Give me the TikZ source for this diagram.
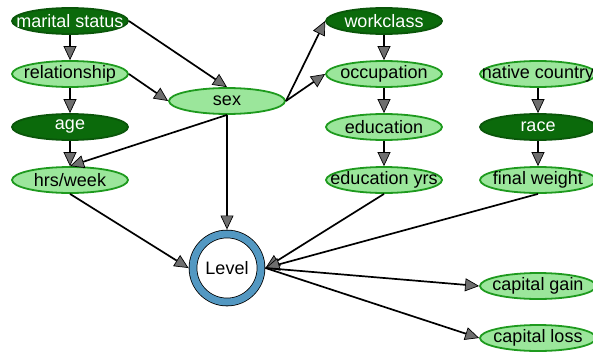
\documentclass[tikz,border=0pt]{standalone}
\usepackage{fontspec}
\setmainfont{Liberation Sans}
\usetikzlibrary{shapes.geometric,arrows.meta}
\definecolor{dkfill}{HTML}{0B6A0B}
\definecolor{dkdraw}{HTML}{0A560A}
\definecolor{ltfill}{HTML}{9BE69B}
\definecolor{ltdraw}{HTML}{1E9A1E}
\definecolor{ringblue}{HTML}{5398C2}
\definecolor{tipgray}{HTML}{6E6E6E}
\newcommand\zt[1]{\makebox[0pt]{#1}}
\begin{document}
\begin{tikzpicture}[x=1pt,y=-1pt,
  base/.style={ellipse, minimum width=116pt, minimum height=26pt, inner sep=0pt,
    line width=1.8pt, font=\fontsize{18}{18}\selectfont},
  dk/.style={base, fill=dkfill, draw=dkdraw, text=white},
  lt/.style={base, fill=ltfill, draw=ltdraw, text=black},
  arr/.style={line width=1.7pt, draw=black,
    -{Triangle[length=14pt, width=13pt, fill=tipgray, line width=0.7pt]}}]
\useasboundingbox (0,0) rectangle (593,351);
\node[dk] (ms)  at (70,21)  {\zt{marital status}};
\node[lt] (rel) at (70,74)  {\zt{relationship}};
\node[dk] (age) at (70,127) {\zt{age}};
\node[lt] (hrs) at (70,180) {\zt{hrs/week}};
\node[lt] (sex) at (227,101) {\zt{sex}};
\node[dk] (wc)  at (384,21)  {\zt{workclass}};
\node[lt] (occ) at (384,74)  {\zt{occupation}};
\node[lt] (edu) at (384,127) {\zt{education}};
\node[lt] (eduy) at (384,180) {\zt{education yrs}};
\node[lt] (nc)  at (538,74)  {\zt{native country}};
\node[dk] (race) at (538,127) {\zt{race}};
\node[lt] (fw)  at (538,180) {\zt{final weight}};
\node[lt] (cg)  at (538,286) {\zt{capital gain}};
\node[lt] (cl)  at (538,338) {\zt{capital loss}};
\node[circle, minimum size=68pt, inner sep=0pt, outer sep=4.5pt, fill=white,
  draw=black, line width=0.8pt, double=ringblue, double distance=7pt,
  font=\fontsize{18}{18}\selectfont] (L) at (227,268) {Level};
\draw[arr] (ms) -- (rel);
\draw[arr] (ms.east) -- (sex.north);
\draw[arr] (rel) -- (age);
\draw[arr] (rel.east) -- (sex.west);
\draw[arr] (age) -- (hrs);
\draw[arr] (sex.south) -- (hrs.north);
\draw[arr] (sex.east) -- (wc.west);
\draw[arr] (sex.east) -- (occ.west);
\draw[arr] (sex.south) -- (L.north);
\draw[arr] (wc) -- (occ);
\draw[arr] (occ) -- (edu);
\draw[arr] (edu) -- (eduy);
\draw[arr] (nc) -- (race);
\draw[arr] (race) -- (fw);
\draw[arr] (hrs.south) -- (L.west);
\draw[arr] (eduy.south) -- (L.east);
\draw[arr] (fw.south) -- (L.east);
\draw[arr] (L.east) -- (cg.west);
\draw[arr] (L.east) -- (cl.west);
\end{tikzpicture}
\end{document}
